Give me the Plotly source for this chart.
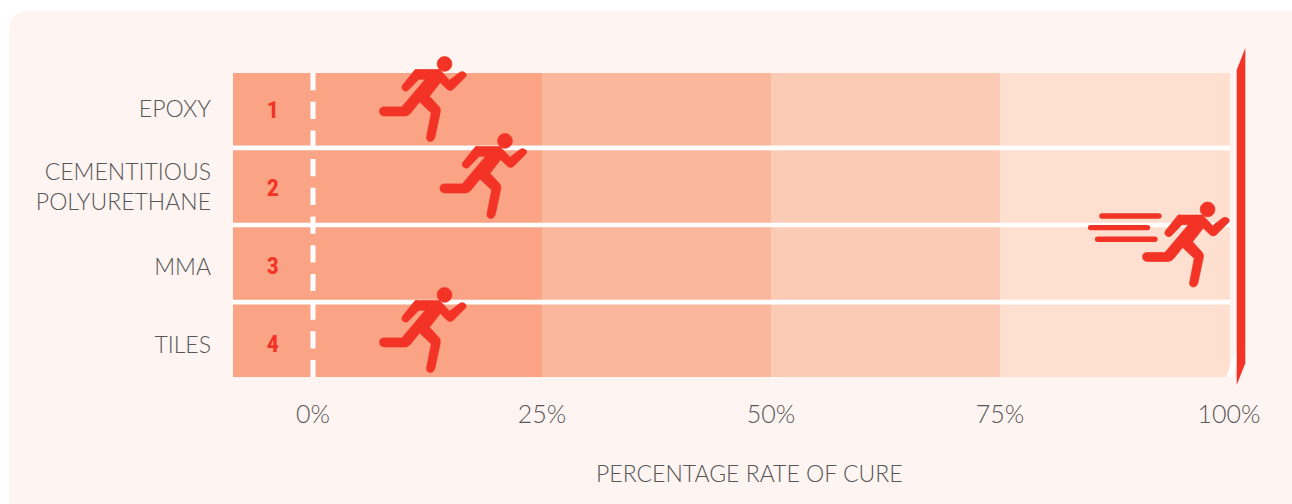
import plotly.graph_objects as go

# ---- data ----
lanes = ["EPOXY", "CEMENTITIOUS<br>POLYURETHANE", "MMA", "TILES"]
lane_ids = [0, 1, 2, 3]
lane_numbers = ["1", "2", "3", "4"]
label_pos = [0, 1.01, 2.04, 3.05]
number_pos = [0.036, 1.05, 2.066, 3.076]
band_start = [-8.73, 25, 50, 75]
band_end = [25, 50, 75, 100.11]
band_colors = ["#FAA385", "#FBB79C", "#FCCBB6", "#FEDFD0"]
x_ticks = [0, 25, 50, 75, 100]
x_tick_text = ["0%", "25%", "50%", "75%", "100%"]
runner_progress = [16.8, 23.4, 100.1, 16.8]   # front hand position, % of cure
runner_lane = [0, 1, 1.89, 3]
number_x = -4.4

INK = "#565656"
RED = "#F23325"
FONT = "Lato"

def rel(x, y):
    return f"{(x-290)/3:.2f},{-(y-177)/3:.2f}"

body = [("M",(135,58)),("L",(208,58)),("L",(238,90)),("L",(268,67)),("Q",(278,60),(287,70)),
        ("Q",(290,76),(284,82)),("L",(248,118)),("Q",(238,124),(230,116)),("L",(210,97)),
        ("L",(178,138)),("L",(207,170)),("Q",(212,176),(210,186)),("L",(194,262)),
        ("Q",(190,274),(180,274)),("Q",(168,272),(169,260)),("L",(183,188)),("L",(148,155)),
        ("L",(120,190)),("Q",(113,197),(105,197)),("L",(42,197)),("Q",(28,196),(28,183)),
        ("Q",(28,170),(42,170)),("L",(95,170)),("L",(165,87)),("L",(146,87)),("L",(113,121)),
        ("Q",(104,126),(97,118)),("Q",(92,112),(97,105)),("L",(128,66)),("Q",(132,58),(140,58))]
runner_path = " ".join(c[0] + " ".join(rel(*p) for p in c[1:]) for c in body) + " Z"
hc, r, k = (223, 41), 22, 12.2
head = [("M",(hc[0]-r,hc[1])),("C",(hc[0]-r,hc[1]-k),(hc[0]-k,hc[1]-r),(hc[0],hc[1]-r)),
        ("C",(hc[0]+k,hc[1]-r),(hc[0]+r,hc[1]-k),(hc[0]+r,hc[1])),
        ("C",(hc[0]+r,hc[1]+k),(hc[0]+k,hc[1]+r),(hc[0],hc[1]+r)),
        ("C",(hc[0]-k,hc[1]+r),(hc[0]-r,hc[1]+k),(hc[0]-r,hc[1]))]
runner_path += " " + " ".join(c[0] + " ".join(rel(*p) for p in c[1:]) for c in head) + " Z"

def streak(x0, x1, yc, h=2.7):
    return (f"M{x0+h},{yc+h} L{x1-h},{yc+h} Q{x1},{yc+h} {x1},{yc} Q{x1},{yc-h} {x1-h},{yc-h} "
            f"L{x0+h},{yc-h} Q{x0},{yc-h} {x0},{yc} Q{x0},{yc+h} {x0+h},{yc+h} Z")
streaks = " ".join([streak(-130.7, -68.3, 38.8), streak(-142, -79.7, 27.2), streak(-135, -72.3, 15.5)])

fig = go.Figure()
for s, e, c in zip(band_start, band_end, band_colors):
    fig.add_trace(go.Bar(y=lane_ids, x=[e - s] * 4, base=s, orientation="h", marker=dict(color=c, line_width=0),
                         width=0.9416, hoverinfo="skip", showlegend=False))
fig.add_trace(go.Scatter(x=[number_x] * 4, y=number_pos, mode="text", text=lane_numbers, xaxis="x2", yaxis="y2",
                         textfont=dict(family="Roboto Condensed, Roboto", size=24, color=RED, weight="bold"),
                         textposition="middle center", hoverinfo="skip", showlegend=False, cliponaxis=False))

shapes = [
    dict(type="path", xref="paper", yref="paper", layer="below", line_width=0, fillcolor="#FEF4F2",
         path=f"M{9/1292},0 L1,0 L1,{493/504} L{29/1292},{493/504} Q{9/1292},{493/504} {9/1292},{473/504} Z"),
    dict(type="rect", xref="x", yref="y", layer="below", line_width=0, fillcolor="white",
         x0=-8.73, x1=100.11, y0=-0.47, y1=3.47),
    dict(type="line", xref="x2", yref="y", layer="above", x0=0, x1=0, y0=-0.4708, y1=3.4708,
         line=dict(color="white", width=5, dash="17.2px,11.5px")),
    dict(type="path", xref="x2", yref="y2", xsizemode="pixel", ysizemode="pixel", xanchor=100, yanchor=0,
         layer="above", line_width=0, fillcolor="white",
         path="M7.5,-240.75 L-3,-267.75 L3,-267.75 L8,-252.75 Z"),
    dict(type="path", xref="x2", yref="y2", xsizemode="pixel", ysizemode="pixel", xanchor=100, yanchor=0,
         layer="above", line_width=0, fillcolor=RED,
         path="M7.7,39.25 L16.3,61.25 L16.3,-254 L7.7,-275.75 Z"),
]
for p, l in zip(runner_progress, runner_lane):
    shapes.append(dict(type="path", xref="x2", yref="y2", xsizemode="pixel", ysizemode="pixel",
                       xanchor=p, yanchor=l, layer="above", line=dict(color=RED, width=0.7),
                       fillcolor=RED, path=runner_path))
shapes.append(dict(type="path", xref="x2", yref="y2", xsizemode="pixel", ysizemode="pixel",
                   xanchor=runner_progress[2], yanchor=runner_lane[2], layer="above", line_width=0,
                   fillcolor=RED, path=streaks))

fig.update_layout(
    width=1292, height=504, margin=dict(l=0, r=0, t=0, b=0), autosize=False,
    paper_bgcolor="white", plot_bgcolor="rgba(0,0,0,0)", barmode="overlay", showlegend=False,
    font=dict(family=FONT, color=INK),
    xaxis=dict(domain=[233/1292, 1230/1292], range=[-8.73, 100.11], tickvals=x_ticks, ticktext=x_tick_text,
               showgrid=False, zeroline=False, showline=False, ticks="", ticklabelstandoff=20, automargin=False,
               tickfont=dict(family=FONT, size=25, color=INK, weight=300)),
    yaxis=dict(domain=[127/504, 431/504], range=[3.4708, -0.4708], tickvals=label_pos, ticktext=lanes,
               showgrid=False, zeroline=False, showline=False, ticks="", ticklabelstandoff=21, automargin=False,
               tickfont=dict(family=FONT, size=23, color=INK, weight=300)),
    xaxis2=dict(domain=[0, 1], range=[-313/9.16, 979/9.16], visible=False, anchor="y2", fixedrange=True, automargin=False),
    yaxis2=dict(domain=[0, 1], range=[(504-109.25)/77, -109.25/77], visible=False, anchor="x2", fixedrange=True, automargin=False),
    shapes=shapes,
    annotations=[dict(text="PERCENTAGE RATE OF CURE", xref="x2", yref="paper", x=47.6, y=31/504, showarrow=False,
                      font=dict(family=FONT, size=23, color=INK, weight=300), xanchor="center", yanchor="middle")],
)
fig.write_html("out.html", config=dict(displayModeBar=False),
               post_script="document.body.style.margin='0';document.documentElement.style.overflow='hidden';")
